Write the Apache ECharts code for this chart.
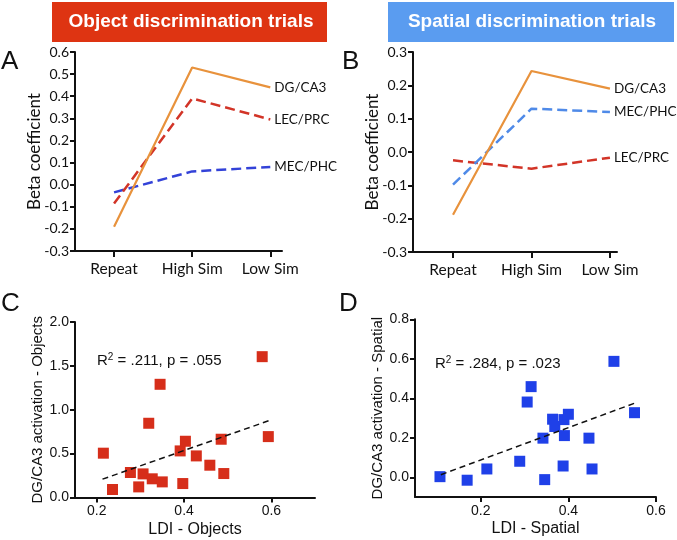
<!DOCTYPE html>
<html><head><meta charset="utf-8">
<script src="https://cdn.jsdelivr.net/npm/echarts@6/dist/echarts.min.js"></script>
<style>html,body{margin:0;padding:0;background:#fff}#c{width:677px;height:540px}</style>
</head><body><div id="c"></div>
<script>
// ---- data ----
var conditions = ['Repeat', 'High Sim', 'Low Sim'];
var objDG = [-0.19, 0.53, 0.44];
var objLEC = [-0.085, 0.39, 0.295];
var objMEC = [-0.035, 0.06, 0.08];
var spaDG = [-0.188, 0.243, 0.19];
var spaMEC = [-0.098, 0.13, 0.12];
var spaLEC = [-0.025, -0.05, -0.017];

var ldiObjects = [0.215, 0.236, 0.277, 0.296, 0.306, 0.319, 0.327, 0.345, 0.350, 0.391, 0.397, 0.403, 0.428, 0.459, 0.485, 0.491, 0.579, 0.593];
var actObjects = [0.505, 0.091, 0.285, 0.121, 0.269, 0.846, 0.213, 1.29, 0.178, 0.531, 0.159, 0.641, 0.474, 0.368, 0.664, 0.273, 1.605, 0.694];
var fitObjectsX = [0.213, 0.594];
var fitObjectsY = [0.209, 0.875];

var ldiSpatial = [0.107, 0.169, 0.214, 0.289, 0.306, 0.315, 0.342, 0.346, 0.364, 0.369, 0.388, 0.390, 0.391, 0.400, 0.447, 0.454, 0.504, 0.551];
var actSpatial = [0.003, -0.015, 0.042, 0.081, 0.381, 0.459, 0.198, -0.012, 0.294, 0.257, 0.057, 0.292, 0.211, 0.319, 0.198, 0.042, 0.587, 0.327];
var fitSpatialX = [0.109, 0.551];
var fitSpatialY = [0.013, 0.375];

var ticksC_X = [0.2, 0.4, 0.6];
var ticksD_X = [0.2, 0.4, 0.6];
var ticksD_Y = [0, 0.2, 0.4, 0.6, 0.8];

// ---- helpers ----
function pairs(xs, ys) { return xs.map(function (x, i) { return [x, ys[i]]; }); }
function idxPairs(ys) { return ys.map(function (v, i) { return [i, v]; }); }
var calib = 'Lato, "Open Sans", sans-serif';
var arial = '"Liberation Sans", Arial, sans-serif';
var axisLine = { show: true, onZero: false, lineStyle: { color: '#111', width: 2 } };
var axisTick = { show: true, length: 5, lineStyle: { color: '#111', width: 2 } };

function catXAxis(gi, min, max) {
  return {
    type: 'value', gridIndex: gi, min: min, max: max,
    axisLine: axisLine,
    axisTick: { show: true, length: 6, lineStyle: { color: '#111', width: 2 }, customValues: [0, 1, 2] },
    axisLabel: { customValues: [0, 1, 2], color: '#111', fontFamily: calib, fontSize: 15.5, margin: 10,
      formatter: function (v) { return conditions[Math.round(v)]; } },
    splitLine: { show: false }
  };
}
function betaYAxis(gi, min, max) {
  return {
    type: 'value', gridIndex: gi, min: min, max: max, interval: 0.1,
    name: 'Beta coefficient', nameLocation: 'middle', nameGap: 32, nameMoveOverlap: false,
    nameTextStyle: { color: '#111', fontFamily: calib, fontSize: 17 },
    axisLine: axisLine, axisTick: axisTick,
    axisLabel: { color: '#111', fontFamily: calib, fontSize: 14, margin: 6,
      formatter: function (v) { return v.toFixed(1); } },
    splitLine: { show: false }
  };
}
function lineSeries(name, gi, ys, color, dashed, width) {
  return {
    type: 'line', name: name, xAxisIndex: gi, yAxisIndex: gi,
    data: idxPairs(ys), symbol: 'none', silent: true,
    lineStyle: { color: color, width: width, type: dashed ? [10, 5] : 'solid' },
    endLabel: { show: true, formatter: name, distance: 4, color: '#111', fontFamily: calib, fontSize: 13.5 }
  };
}

var chart = echarts.init(document.getElementById('c'));
chart.setOption({
  animation: false,
  grid: [
    { left: 75, top: 52, width: 207, height: 199 },
    { left: 413, top: 52, width: 204, height: 200 },
    { left: 75, top: 322, width: 240, height: 175.5 },
    { left: 415, top: 319.3, width: 241, height: 177.7 }
  ],
  xAxis: [
    catXAxis(0, -0.5, 2.15),
    catXAxis(1, -0.51, 2.09),
    {
      type: 'value', gridIndex: 2, min: 0.15, max: 0.7,
      name: 'LDI - Objects', nameLocation: 'middle', nameGap: 24,
      nameTextStyle: { color: '#111', fontFamily: arial, fontSize: 16 },
      axisLine: axisLine,
      axisTick: { show: true, length: 5, lineStyle: { color: '#111', width: 2 }, customValues: ticksC_X },
      axisLabel: { customValues: ticksC_X, color: '#111', fontFamily: arial, fontSize: 14, margin: 7,
        formatter: function (v) { return v.toFixed(1); } },
      splitLine: { show: false }
    },
    {
      type: 'value', gridIndex: 3, min: 0.05, max: 0.6,
      name: 'LDI - Spatial', nameLocation: 'middle', nameGap: 24,
      nameTextStyle: { color: '#111', fontFamily: arial, fontSize: 16 },
      axisLine: axisLine,
      axisTick: { show: true, length: 5, lineStyle: { color: '#111', width: 2 }, customValues: ticksD_X },
      axisLabel: { customValues: ticksD_X, color: '#111', fontFamily: arial, fontSize: 14, margin: 7,
        formatter: function (v) { return v.toFixed(1); } },
      splitLine: { show: false }
    }
  ],
  yAxis: [
    betaYAxis(0, -0.3, 0.6),
    betaYAxis(1, -0.3, 0.3),
    {
      type: 'value', gridIndex: 2, min: 0, max: 2, interval: 0.5,
      name: 'DG/CA3 activation - Objects', nameLocation: 'middle', nameGap: 29,
      nameTextStyle: { color: '#111', fontFamily: arial, fontSize: 15 },
      axisLine: axisLine, axisTick: axisTick,
      axisLabel: { color: '#111', fontFamily: arial, fontSize: 14, margin: 6,
        formatter: function (v) { return v.toFixed(1); } },
      splitLine: { show: false }
    },
    {
      type: 'value', gridIndex: 3, min: -0.1, max: 0.8,
      name: 'DG/CA3 activation - Spatial', nameLocation: 'middle', nameGap: 30,
      nameTextStyle: { color: '#111', fontFamily: arial, fontSize: 15 },
      axisLine: axisLine,
      axisTick: { show: true, length: 5, lineStyle: { color: '#111', width: 2 }, customValues: ticksD_Y },
      axisLabel: { customValues: ticksD_Y, color: '#111', fontFamily: arial, fontSize: 14, margin: 6,
        formatter: function (v) { return v.toFixed(1); } },
      splitLine: { show: false }
    }
  ],
  series: [
    lineSeries('MEC/PHC', 0, objMEC, '#3342d8', true, 2.5),
    lineSeries('LEC/PRC', 0, objLEC, '#d23427', true, 2.5),
    lineSeries('DG/CA3', 0, objDG, '#e8923c', false, 2.2),
    lineSeries('LEC/PRC', 1, spaLEC, '#d23427', true, 2.5),
    lineSeries('MEC/PHC', 1, spaMEC, '#4f8ae8', true, 2.5),
    lineSeries('DG/CA3', 1, spaDG, '#e8923c', false, 2.2),
    {
      type: 'line', xAxisIndex: 2, yAxisIndex: 2, data: pairs(fitObjectsX, fitObjectsY),
      symbol: 'none', silent: true, lineStyle: { color: '#111', width: 1.5, type: [6, 4] }
    },
    {
      type: 'scatter', xAxisIndex: 2, yAxisIndex: 2, data: pairs(ldiObjects, actObjects),
      symbol: 'rect', symbolSize: 11, itemStyle: { color: '#d62e1a', opacity: 1 }, silent: true
    },
    {
      type: 'line', xAxisIndex: 3, yAxisIndex: 3, data: pairs(fitSpatialX, fitSpatialY),
      symbol: 'none', silent: true, lineStyle: { color: '#111', width: 1.5, type: [6, 4] }
    },
    {
      type: 'scatter', xAxisIndex: 3, yAxisIndex: 3, data: pairs(ldiSpatial, actSpatial),
      symbol: 'rect', symbolSize: 11, itemStyle: { color: '#1f40e8', opacity: 1 }, silent: true
    }
  ],
  graphic: [
    { type: 'rect', shape: { x: 52, y: 2, width: 275, height: 40 }, style: { fill: '#de3412' } },
    { type: 'text', x: 191, y: 22, style: { text: 'Object discrimination trials', fill: '#fff',
      font: 'bold 19px "Liberation Sans", Arial, sans-serif', textAlign: 'center', textVerticalAlign: 'middle' } },
    { type: 'rect', shape: { x: 388, y: 2, width: 286, height: 40 }, style: { fill: '#5a9cf0' } },
    { type: 'text', x: 532, y: 22, style: { text: 'Spatial discrimination trials', fill: '#fff',
      font: 'bold 19px "Liberation Sans", Arial, sans-serif', textAlign: 'center', textVerticalAlign: 'middle' } },
    { type: 'text', x: 1, y: 62, style: { text: 'A', fill: '#111', font: '26px "Liberation Sans", Arial, sans-serif', textVerticalAlign: 'middle' } },
    { type: 'text', x: 342, y: 62, style: { text: 'B', fill: '#111', font: '26px "Liberation Sans", Arial, sans-serif', textVerticalAlign: 'middle' } },
    { type: 'text', x: 1, y: 304, style: { text: 'C', fill: '#111', font: '26px "Liberation Sans", Arial, sans-serif', textVerticalAlign: 'middle' } },
    { type: 'text', x: 339, y: 304, style: { text: 'D', fill: '#111', font: '26px "Liberation Sans", Arial, sans-serif', textVerticalAlign: 'middle' } },
    { type: 'text', x: 97, y: 361, style: { text: '{n|R}{s|2}{n| = .211, p = .055}', textVerticalAlign: 'middle',
      rich: { n: { fontSize: 15, fontFamily: arial, fill: '#111' }, s: { fontSize: 10, fontFamily: arial, fill: '#111', verticalAlign: 'top', padding: [0, 0, 8, 0] } } } },
    { type: 'text', x: 435, y: 364, style: { text: '{n|R}{s|2}{n| = .284, p = .023}', textVerticalAlign: 'middle',
      rich: { n: { fontSize: 15, fontFamily: arial, fill: '#111' }, s: { fontSize: 10, fontFamily: arial, fill: '#111', verticalAlign: 'top', padding: [0, 0, 8, 0] } } } }
  ]
});
</script></body></html>
